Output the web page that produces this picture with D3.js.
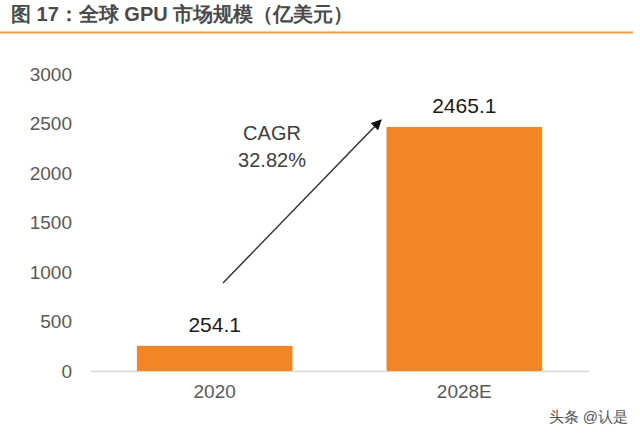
<!DOCTYPE html>
<html>
<head>
<meta charset="utf-8">
<script src="https://cdn.jsdelivr.net/npm/d3@7"></script>
<style>
  body { margin: 0; background: #fff; }
  text { font-family: Arial, "Liberation Sans", sans-serif; }
</style>
</head>
<body>
<div id="chart"></div>
<script>
// chart data
const categories = ["2020", "2028E"];
const values = [254.1, 2465.1];
const valueLabels = ["254.1", "2465.1"];
const yTicks = [0, 500, 1000, 1500, 2000, 2500, 3000];
const titleText = "图 17：全球 GPU 市场规模（亿美元）";
const cagrLines = ["CAGR", "32.82%"];
const watermark = "头条 @认是";

const width = 640, height = 440;
const margin = { top: 74, right: 51, bottom: 69, left: 90 };
const barColor = "#f28526";

const svg = d3.select("#chart")
  .append("svg")
  .attr("width", width)
  .attr("height", height);

// title + orange rule
svg.append("text")
  .attr("x", 11)
  .attr("y", 21)
  .attr("font-family", "'Noto Sans CJK SC', sans-serif")
  .attr("font-size", 20)
  .attr("font-weight", "bold")
  .attr("fill", "#4a4a4a")
  .text(titleText);

svg.append("line")
  .attr("x1", 0).attr("x2", 633)
  .attr("y1", 32.5).attr("y2", 32.5)
  .attr("stroke", "#ee9a4d")
  .attr("stroke-width", 2);

// scales
const xScale = d3.scaleBand()
  .domain(categories)
  .range([margin.left, width - margin.right])
  .paddingInner(0.377)
  .paddingOuter(0.188);

const yScale = d3.scaleLinear()
  .domain([0, 3000])
  .range([height - margin.bottom, margin.top]);

// y axis, labels only
const yAxis = d3.axisLeft(yScale)
  .tickValues(yTicks)
  .tickFormat(d3.format("d"))
  .tickSize(0)
  .tickPadding(0);

const yAxisGroup = svg.append("g")
  .attr("transform", `translate(${72}, 0)`)
  .call(yAxis);
yAxisGroup.select(".domain").remove();
yAxisGroup.selectAll("text")
  .attr("font-size", 19)
  .attr("fill", "#595959")
  .attr("font-family", "Arial, 'Liberation Sans', sans-serif");

// x axis
const xAxis = d3.axisBottom(xScale).tickSize(0).tickPadding(14);
const xAxisGroup = svg.append("g")
  .attr("transform", `translate(0, ${height - margin.bottom})`)
  .call(xAxis);
xAxisGroup.select(".domain")
  .attr("stroke", "#d9d9d9")
  .attr("stroke-width", 1.5);
xAxisGroup.selectAll("text")
  .attr("font-size", 19)
  .attr("fill", "#595959")
  .attr("font-family", "Arial, 'Liberation Sans', sans-serif");

// bars
svg.selectAll("rect.bar")
  .data(categories)
  .join("rect")
  .attr("class", "bar")
  .attr("x", d => xScale(d))
  .attr("width", xScale.bandwidth())
  .attr("y", (d, i) => yScale(values[i]))
  .attr("height", (d, i) => yScale(0) - yScale(values[i]))
  .attr("fill", barColor);

// value labels
svg.selectAll("text.val")
  .data(categories)
  .join("text")
  .attr("class", "val")
  .attr("x", d => xScale(d) + xScale.bandwidth() / 2)
  .attr("y", (d, i) => yScale(values[i]) - 14)
  .attr("text-anchor", "middle")
  .attr("font-size", 21)
  .attr("fill", "#1a1a1a")
  .text((d, i) => valueLabels[i]);

// CAGR arrow
svg.append("defs").append("marker")
  .attr("id", "arrowhead")
  .attr("viewBox", "0 0 10 10")
  .attr("refX", 9).attr("refY", 5)
  .attr("markerWidth", 7).attr("markerHeight", 7)
  .attr("orient", "auto")
  .append("path")
  .attr("d", "M0,0 L10,5 L0,10 z")
  .attr("fill", "#111");

svg.append("line")
  .attr("x1", 223).attr("y1", 283)
  .attr("x2", 381).attr("y2", 120)
  .attr("stroke", "#333")
  .attr("stroke-width", 1.5)
  .attr("marker-end", "url(#arrowhead)");

svg.selectAll("text.cagr")
  .data(cagrLines)
  .join("text")
  .attr("class", "cagr")
  .attr("x", 272)
  .attr("y", (d, i) => 140 + i * 27)
  .attr("text-anchor", "middle")
  .attr("font-family", "Lato, 'Open Sans', sans-serif")
  .attr("font-size", 20)
  .attr("fill", "#404040")
  .text(d => d);

// watermark
svg.append("text")
  .attr("x", 628)
  .attr("y", 422)
  .attr("text-anchor", "end")
  .attr("font-family", "'Noto Sans CJK SC', sans-serif")
  .attr("font-size", 15)
  .attr("fill", "#555")
  .text(watermark);
</script>
</body>
</html>
